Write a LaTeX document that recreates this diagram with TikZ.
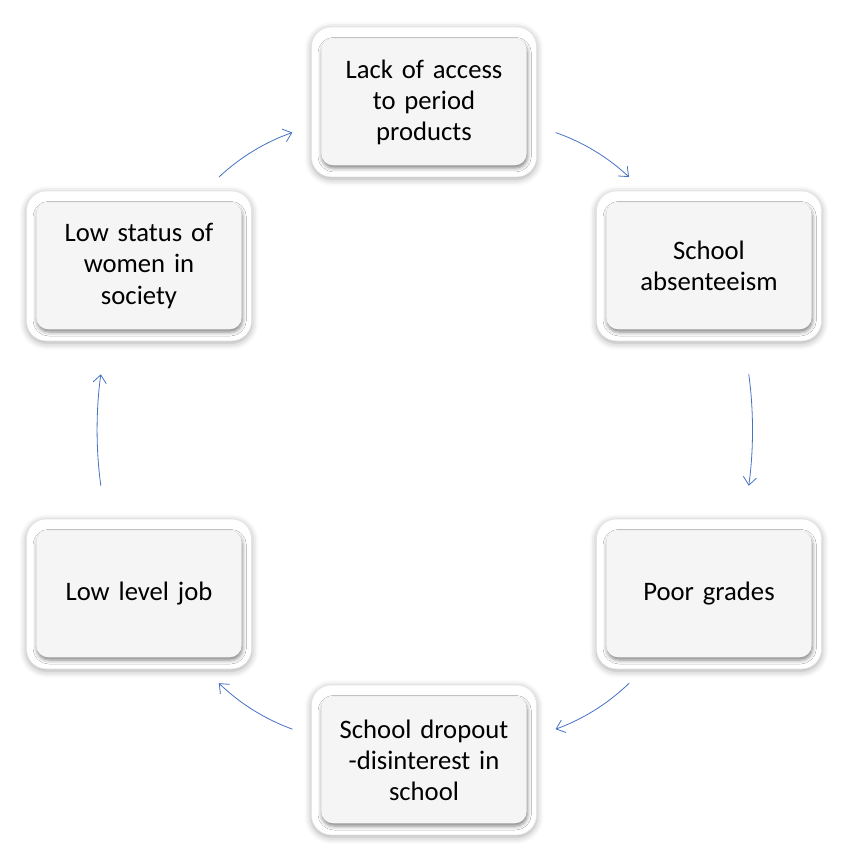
\documentclass[tikz,border=0pt]{standalone}
\usepackage{fontspec}
\setmainfont{Carlito}
\usetikzlibrary{arrows.meta,shadows.blur}
\definecolor{arrowblue}{HTML}{4472C4}

\begin{document}
\begin{tikzpicture}
  [x=0.75pt,y=-0.75pt,
   frame/.style={rectangle,rounded corners=15pt,fill=white,draw=black!10,inner sep=0pt,
     minimum width=168.75pt,minimum height=112.5pt,
     blur shadow={shadow xshift=0pt,shadow yshift=-1.5pt,shadow blur radius=5pt,shadow opacity=35}},
   card/.style={rectangle,rounded corners=9pt,fill=black!4,inner sep=0pt,
     minimum width=154pt,minimum height=95pt,text width=150pt,align=center,
     font=\fontsize{20}{23.3}\selectfont,
     blur shadow={shadow xshift=0.5pt,shadow yshift=-2pt,shadow blur radius=3pt,shadow opacity=50}},
   link/.style={-{Straight Barb[length=6pt,width=10pt]},draw=arrowblue,line width=0.6pt}]
  \useasboundingbox (0,0) rectangle (845,862);
  \node[frame] (fa) at (424,102) {};
  \node[frame] (fb) at (709,266) {};
  \node[frame] (fc) at (709,594) {};
  \node[frame] (fd) at (424,760) {};
  \node[frame] (fe) at (139,594) {};
  \node[frame] (ff) at (139,266) {};
  \node[card] (na) at (fa) {Lack of access\\to period\\products};
  \node[card] (nb) at (fb) {School\\absenteeism};
  \node[card] (nc) at (fc) {Poor grades};
  \node[card] (nd) at (fd) {School dropout\\-disinterest in\\school};
  \node[card] (ne) at (fe) {Low level job};
  \node[card] (nf) at (ff) {Low status of\\women in\\society};
    \foreach \from/\to/\gap/\bend in {ff.49/fa.192/15pt/12,fa.-12/fb.131/15pt/12,fb.-65/fc.65/25pt/8,fc.229/fd.12/15pt/12,fd.168/fe.311/15pt/12,fe.114/ff.246/25pt/8}
    \draw[link,shorten <=\gap,shorten >=\gap] (\from) to[bend left=\bend] (\to);
  \end{tikzpicture}
\end{document}
